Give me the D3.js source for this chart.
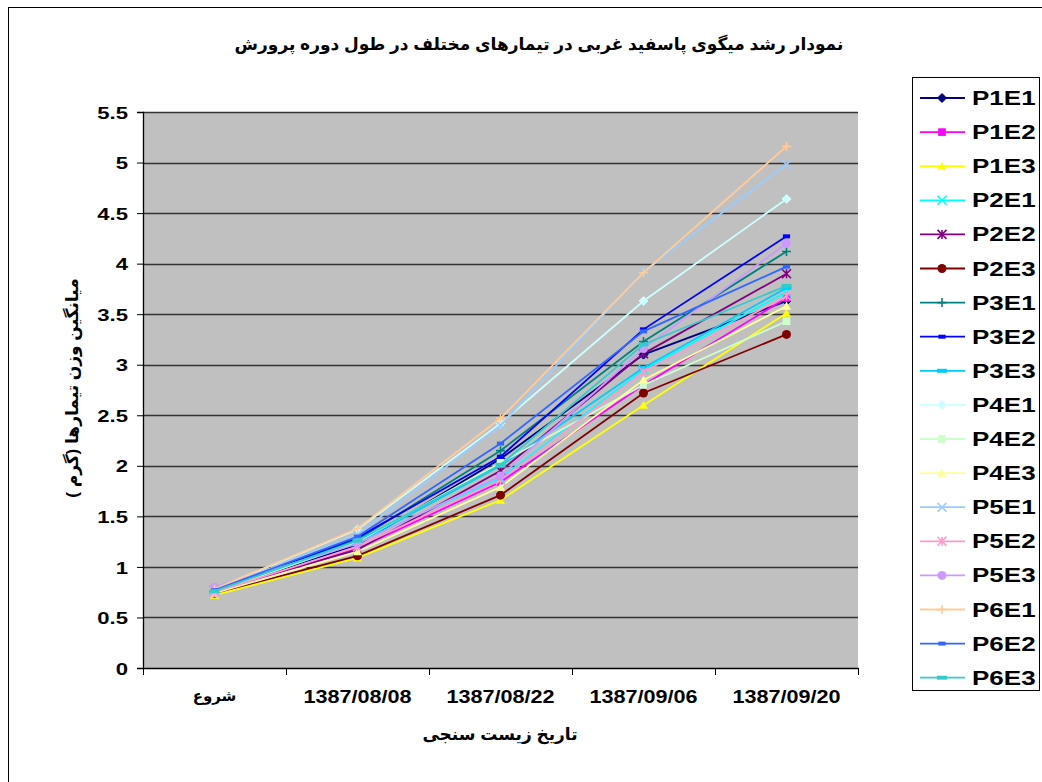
<!DOCTYPE html>
<html>
<head>
<meta charset="utf-8">
<script src="https://cdn.jsdelivr.net/npm/d3@7"></script>
<style>
  html, body { margin: 0; padding: 0; background: #fff; }
  svg text { font-family: "Liberation Sans", Arial, "DejaVu Sans", sans-serif; font-weight: bold; }
</style>
</head>
<body>
<svg id="chart" width="1042" height="782"></svg>
<script>
// Sampling dates (first one is the start of the trial)
const dates = ["شروع", "1387/08/08", "1387/08/22", "1387/09/06", "1387/09/20"];

// Treatment names
const seriesNames = ["P1E1","P1E2","P1E3","P2E1","P2E2","P2E3","P3E1","P3E2","P3E3",
                     "P4E1","P4E2","P4E3","P5E1","P5E2","P5E3","P6E1","P6E2","P6E3"];

// Mean weight (g) per treatment at each date
const P1E1 = [0.76, 1.22, 2.07, 3.10, 3.63];
const P1E2 = [0.75, 1.18, 1.84, 2.80, 3.66];
const P1E3 = [0.72, 1.09, 1.66, 2.60, 3.51];
const P2E1 = [0.76, 1.24, 1.88, 2.95, 3.72];
const P2E2 = [0.77, 1.17, 1.95, 3.11, 3.90];
const P2E3 = [0.74, 1.11, 1.71, 2.72, 3.30];
const P3E1 = [0.77, 1.27, 2.15, 3.23, 4.12];
const P3E2 = [0.76, 1.29, 2.09, 3.35, 4.27];
const P3E3 = [0.76, 1.24, 2.00, 2.97, 3.76];
const P4E1 = [0.78, 1.37, 2.42, 3.63, 4.64];
const P4E2 = [0.75, 1.25, 2.03, 2.80, 3.43];
const P4E3 = [0.74, 1.15, 1.79, 2.85, 3.58];
const P5E1 = [0.77, 1.32, 2.40, 3.92, 4.98];
const P5E2 = [0.75, 1.20, 1.86, 2.93, 3.68];
const P5E3 = [0.80, 1.23, 1.90, 3.16, 4.20];
const P6E1 = [0.78, 1.38, 2.47, 3.91, 5.16];
const P6E2 = [0.77, 1.30, 2.22, 3.33, 3.97];
const P6E3 = [0.76, 1.26, 2.01, 3.20, 3.78];

const yTicks = [0, 0.5, 1, 1.5, 2, 2.5, 3, 3.5, 4, 4.5, 5, 5.5];

const seriesValues = [P1E1,P1E2,P1E3,P2E1,P2E2,P2E3,P3E1,P3E2,P3E3,
                      P4E1,P4E2,P4E3,P5E1,P5E2,P5E3,P6E1,P6E2,P6E3];

const colors = ["#000080","#FF00FF","#FFFF00","#00FFFF","#800080","#800000","#008080","#0000FF","#00CCFF",
                "#CCFFFF","#CCFFCC","#FFFF99","#99CCFF","#FF99CC","#CC99FF","#FFCC99","#3366FF","#33CCCC"];
const markerKinds = ["diamond","square","triangle","x","star","circle","plus","dash","longdash"];

const series = seriesNames.map((name, i) => ({
  name, values: seriesValues[i], color: colors[i], marker: markerKinds[i % markerKinds.length]
}));

const svg = d3.select("#chart");
const latinFont = "'Liberation Sans', Arial, sans-serif";

// Outer chart border
svg.append("rect").attr("x", 8.5).attr("y", 7.5).attr("width", 1100).attr("height", 900)
  .attr("fill", "#fff").attr("stroke", "#000").attr("stroke-width", 1);

const plot = { left: 143, right: 858, top: 112, bottom: 668 };

const xBand = d3.scaleBand().domain(dates).range([plot.left, plot.right]).padding(0);
const x = d => xBand(d) + xBand.bandwidth() / 2;
const y = d3.scaleLinear().domain([0, 5.5]).range([plot.bottom, plot.top]);

// Plot background
svg.append("rect").attr("x", plot.left).attr("y", plot.top)
  .attr("width", plot.right - plot.left).attr("height", plot.bottom - plot.top)
  .attr("fill", "#C0C0C0");

// Horizontal gridlines
svg.append("g").selectAll("line").data(yTicks.filter(t => t > 0)).join("line")
  .attr("x1", plot.left).attr("x2", plot.right)
  .attr("y1", d => Math.round(y(d)) + 0.5).attr("y2", d => Math.round(y(d)) + 0.5)
  .attr("stroke", "#333").attr("stroke-width", 1.3);

// Y axis
const yAxis = svg.append("g").attr("transform", `translate(${plot.left},0)`)
  .call(d3.axisLeft(y).tickValues(yTicks).tickSize(6).tickFormat(d => String(d)));
yAxis.select(".domain").attr("stroke", "#000").attr("stroke-width", 1.3);
yAxis.selectAll(".tick line").attr("stroke", "#000");
yAxis.selectAll(".tick text")
  .attr("x", null).attr("dy", "0.36em")
  .attr("transform", "translate(-15,0) scale(1.3,1)")
  .attr("font-size", 17).attr("fill", "#000")
  .attr("font-family", latinFont).attr("font-weight", "bold");

// X axis with ticks between categories
const xAxis = svg.append("g").attr("transform", `translate(0,${plot.bottom})`)
  .call(d3.axisBottom(xBand).tickSize(0).tickPadding(22));
xAxis.select(".domain").attr("stroke", "#000").attr("stroke-width", 1.3);
xAxis.selectAll(".tick text").attr("fill", "#000")
  .attr("font-family", "'Liberation Sans', Arial, 'DejaVu Sans', sans-serif").attr("font-weight", "bold")
  .each(function(d, i) {
    const t = d3.select(this);
    if (i === 0) {
      t.attr("font-size", 15);
    } else {
      t.attr("font-size", 18).attr("y", null)
        .attr("transform", "translate(0,22) scale(1.2,1)");
    }
  });
const boundaries = dates.map(d => xBand(d)).concat([xBand(dates[dates.length - 1]) + xBand.bandwidth()]);
xAxis.append("g").selectAll("line").data(boundaries).join("line")
  .attr("x1", d => Math.round(d) + 0.5).attr("x2", d => Math.round(d) + 0.5)
  .attr("y1", 0).attr("y2", 7).attr("stroke", "#000");

// Marker drawing
function drawMarker(g, kind, color, size) {
  const s = size;
  switch (kind) {
    case "diamond":
      g.append("path").attr("d", `M0,${-s}L${s},0L0,${s}L${-s},0Z`).attr("fill", color).attr("stroke", color);
      break;
    case "square":
      g.append("rect").attr("x", -s * 0.85).attr("y", -s * 0.85).attr("width", s * 1.7).attr("height", s * 1.7).attr("fill", color);
      break;
    case "triangle":
      g.append("path").attr("d", `M0,${-s}L${s},${s * 0.8}L${-s},${s * 0.8}Z`).attr("fill", color);
      break;
    case "x":
      g.append("path").attr("d", `M${-s},${-s}L${s},${s}M${-s},${s}L${s},${-s}`).attr("stroke", color).attr("stroke-width", 1.6).attr("fill", "none");
      break;
    case "star":
      g.append("path").attr("d", `M${-s},${-s}L${s},${s}M${-s},${s}L${s},${-s}M0,${-s}L0,${s}`).attr("stroke", color).attr("stroke-width", 1.6).attr("fill", "none");
      break;
    case "circle":
      g.append("circle").attr("r", s).attr("fill", color);
      break;
    case "plus":
      g.append("path").attr("d", `M${-s},0L${s},0M0,${-s}L0,${s}`).attr("stroke", color).attr("stroke-width", 1.6).attr("fill", "none");
      break;
    case "dash":
      g.append("rect").attr("x", -s * 0.8).attr("y", -2).attr("width", s * 1.6).attr("height", 4).attr("fill", color);
      break;
    case "longdash":
      g.append("rect").attr("x", -s * 1.1).attr("y", -2).attr("width", s * 2.2).attr("height", 4).attr("fill", color);
      break;
  }
}

// Series lines and markers
const line = d3.line().x((d, i) => x(dates[i])).y(d => y(d));
const seriesG = svg.append("g");
series.forEach(s => {
  const g = seriesG.append("g");
  g.append("path").datum(s.values).attr("d", line)
    .attr("fill", "none").attr("stroke", s.color).attr("stroke-width", 1.8);
  s.values.forEach((v, i) => {
    const mg = g.append("g").attr("transform", `translate(${x(dates[i])},${y(v)})`);
    drawMarker(mg, s.marker, s.color, 4.5);
  });
});

// Title
svg.append("text").attr("x", 539).attr("y", 50).attr("text-anchor", "middle")
  .attr("font-size", 17).attr("fill", "#000").attr("direction", "rtl")
  .text("نمودار رشد میگوی پاسفید غربی در تیمارهای مختلف در طول دوره پرورش");

// Axis titles
svg.append("text").attr("x", 500).attr("y", 740).attr("text-anchor", "middle")
  .attr("font-size", 17).attr("fill", "#000")
  .text("تاریخ زیست سنجی");
svg.append("text").attr("transform", "translate(78,388) rotate(-90)").attr("text-anchor", "middle")
  .attr("font-size", 17).attr("fill", "#000")
  .text("میانگین وزن تیمارها (گرم )");

// Legend
const legend = svg.append("g");
legend.append("rect").attr("x", 912.5).attr("y", 77.5).attr("width", 127).attr("height", 613)
  .attr("fill", "#fff").attr("stroke", "#000").attr("stroke-width", 1);
series.forEach((s, i) => {
  const ly = 98 + i * 34.1;
  const g = legend.append("g");
  g.append("line").attr("x1", 920).attr("x2", 965).attr("y1", ly).attr("y2", ly)
    .attr("stroke", s.color).attr("stroke-width", 1.8);
  const mg = g.append("g").attr("transform", `translate(942,${ly})`);
  drawMarker(mg, s.marker, s.color, 4.5);
  g.append("text").attr("transform", `translate(972,${ly + 7}) scale(1.3,1)`)
    .attr("font-size", 20).attr("fill", "#000")
    .attr("font-family", latinFont).text(s.name);
});
</script>
</body>
</html>
